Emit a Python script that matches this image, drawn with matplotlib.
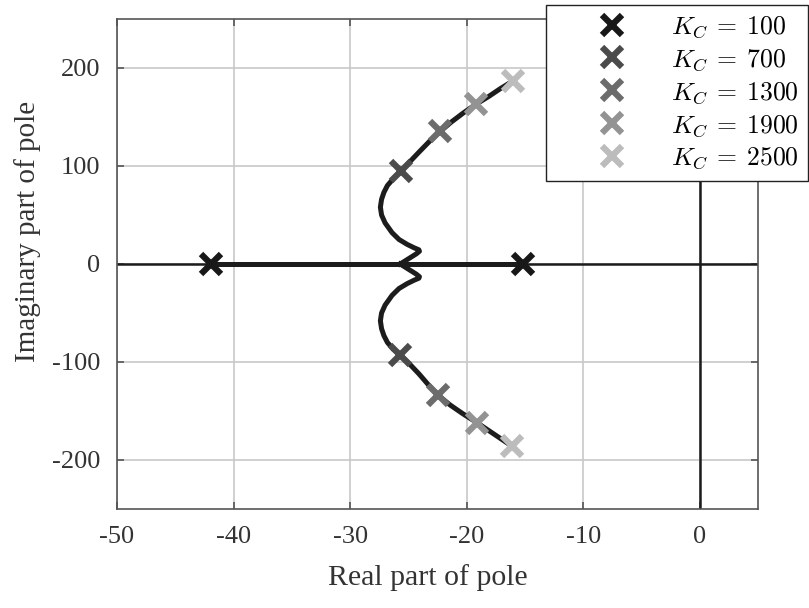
import matplotlib
matplotlib.use("Agg")
import matplotlib.pyplot as plt

plt.rcParams['font.family'] = ['Liberation Serif', 'DejaVu Serif']
plt.rcParams['mathtext.fontset'] = 'cm'
plt.rcParams['axes.unicode_minus'] = False

# Root-locus branch data
real_axis_re = [-41.9, -15.2]
real_axis_im = [0.0, 0.0]

upper_re = [-25.7, -24.9, -24.3, -24.05, -24.1, -24.5, -25.1, -25.8, -26.4, -27.0, -27.3, -27.4,
            -27.3, -27.1, -26.8, -26.3, -25.6, -24.9, -24.1, -23.2, -22.3, -21.3,
            -20.3, -19.2, -18.1, -17.1, -16.0]
upper_im = [0.0, 6.0, 10.5, 13.0, 14.5, 16.5, 20.0, 25.0, 32.0, 42.0, 50.0, 58.0,
            66.0, 73.0, 80.0, 87.0, 95.0, 104.0, 114.0, 125.0, 135.0, 145.0,
            154.0, 163.0, 171.0, 179.0, 187.0]
lower_re = [-25.7, -24.9, -24.3, -24.05, -24.1, -24.5, -25.1, -25.8, -26.4, -27.0, -27.3, -27.4,
            -27.3, -27.1, -26.8, -26.3, -25.7, -24.9, -24.1, -23.3, -22.5, -21.4,
            -20.3, -19.1, -18.1, -17.1, -16.1]
lower_im = [0.0, -6.0, -10.5, -13.0, -14.5, -16.5, -20.0, -25.0, -32.0, -42.0, -50.0, -58.0,
            -66.0, -73.0, -80.0, -87.0, -93.0, -102.0, -112.0, -123.0, -133.5, -144.0,
            -153.0, -162.0, -170.0, -178.0, -186.0]

gains = [100, 700, 1300, 1900, 2500]
pole_re = [[-41.9, -15.2], [-25.6, -25.7], [-22.3, -22.5], [-19.2, -19.1], [-16.0, -16.1]]
pole_im = [[0.0, 0.0], [95.0, -93.0], [136.0, -133.5], [163.0, -162.0], [187.0, -186.0]]
marker_colors = ['#181818', '#4b4b4b', '#6c6c6c', '#939393', '#bcbcbc']

xticks = [-50, -40, -30, -20, -10, 0]
yticks = [-200, -100, 0, 100, 200]

fig = plt.figure(figsize=(8.09, 6.08), dpi=100)
ax = fig.add_axes([117/809, 1-509/608, (758-117)/809, (509-19)/608])

ax.set_xlim(-50, 5)
ax.set_ylim(-250, 250)
ax.set_xticks(xticks)
ax.set_yticks(yticks)
ax.grid(True, color='#c8c8c8', linewidth=1.2, zorder=0)
ax.set_axisbelow(True)

ax.axhline(0, color='#1c1c1c', linewidth=1.8, zorder=1)
ax.axvline(0, color='#1c1c1c', linewidth=1.8, zorder=1)

ax.plot(real_axis_re, real_axis_im, color='#1c1c1c', linewidth=3.6, zorder=2,
        solid_capstyle='butt')
ax.plot(upper_re, upper_im, color='#1c1c1c', linewidth=3.6, zorder=2,
        solid_joinstyle='round')
ax.plot(lower_re, lower_im, color='#1c1c1c', linewidth=3.6, zorder=2,
        solid_joinstyle='round')

for k, xs, ys, c in zip(gains, pole_re, pole_im, marker_colors):
    ax.plot(xs, ys, linestyle='none', marker='x', markersize=15, markeredgewidth=4.5,
            color=c, zorder=3, label=r'$K_C\:=\:%d$' % k)

for s in ax.spines.values():
    s.set_color('#555555')
    s.set_linewidth(1.2)

ax.tick_params(direction='in', length=5, width=1.2, color='#555555',
               top=True, right=True, labelsize=19, labelcolor='#333333')
ax.tick_params(axis='y', pad=12)
ax.tick_params(axis='x', pad=12)

ax.set_xlabel('Real part of pole', fontsize=21.5, color='#333333')
ax.set_ylabel('Imaginary part of pole', fontsize=21, color='#333333')
ax.xaxis.set_label_coords((428-117)/641, -(578-509)/490, transform=ax.transAxes)
ax.xaxis.label.set_va('center')
ax.yaxis.set_label_coords(-(117-28)/641, (509-231)/490, transform=ax.transAxes)
ax.yaxis.label.set_va('center')

leg = ax.legend(loc='upper left', bbox_to_anchor=(546/809, 1-5/608),
                bbox_transform=fig.transFigure, borderaxespad=0,
                fontsize=18.5, numpoints=1, handlelength=4.4, handletextpad=0.1,
                labelspacing=0.28, borderpad=0.36, fancybox=False, framealpha=1,
                edgecolor='#222222')
leg.get_frame().set_linewidth(1.0)

fig.savefig('out.png', dpi=100)
